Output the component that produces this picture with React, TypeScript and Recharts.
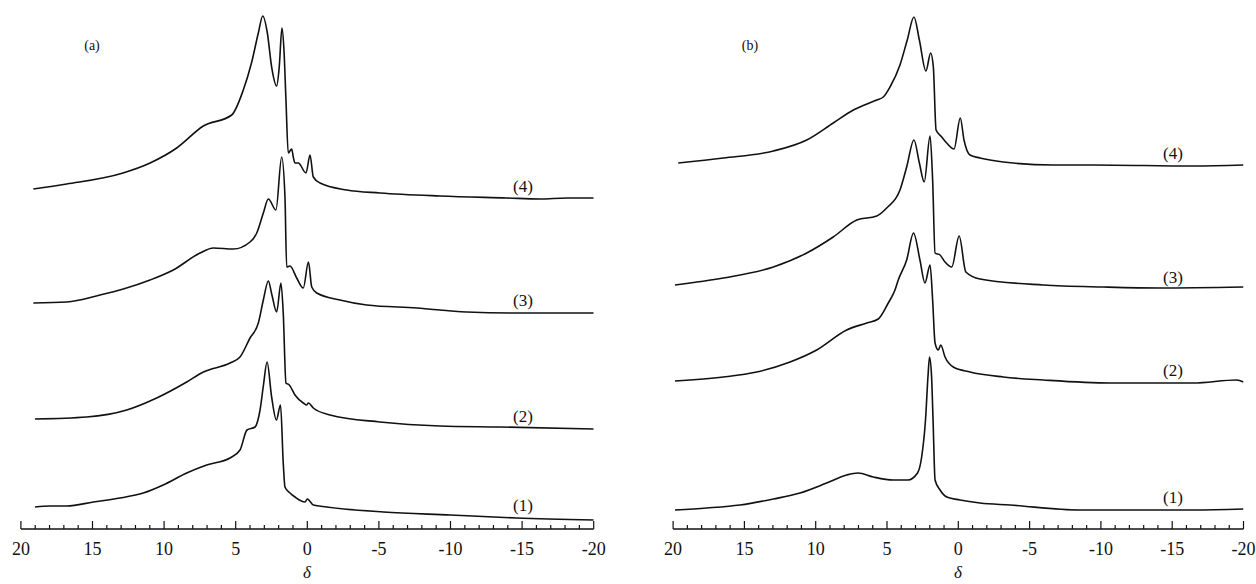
import { LineChart, Line, XAxis, YAxis } from "recharts";

// chemical shift axis (ppm)
const TICKS = [
  20, 19, 18, 17, 16, 15, 14, 13, 12, 11, 10, 9, 8, 7, 6, 5, 4, 3, 2, 1, 0,
  -1, -2, -3, -4, -5, -6, -7, -8, -9, -10, -11, -12, -13, -14, -15, -16, -17, -18, -19, -20,
];

// panel (a)
const A1_SHIFT = [19.02, 17.97, 16.8, 14.94, 13.08, 11.45, 10.06, 8.42, 7.03, 5.4, 4.7, 4.21, 3.65, 3.3, 3.06, 2.81, 2.49, 2.16, 1.87, 1.68, 1.56, 1.21, 0.86, 0.16, 0, -0.42, -1.35, -5.31, -9.97, -14.62, -20];
const A1_INT = [13, 14, 14, 18, 22, 27, 35, 47, 55, 62, 70, 90, 93, 110, 135, 158, 123, 100, 115, 57, 33, 27, 23, 18, 21, 15, 13, 8, 5, 2, 0];

const A2_SHIFT = [19.02, 15.41, 12.61, 10.52, 8.42, 7.26, 5.4, 4.7, 4.0, 3.42, 3.07, 2.72, 2.47, 2.14, 1.84, 1.68, 1.49, 1.26, 0.86, 0.28, 0.04, -0.07, -0.42, -1.59, -5.08, -9.27, -13.46, -20];
const A2_INT = [10, 12, 19, 31, 47, 57, 66, 72, 91, 106, 129, 148, 134, 117, 146, 116, 46, 44, 34, 26, 24, 26, 21, 14, 7, 3, 2, 0];

const A3_SHIFT = [19.13, 16.8, 14.48, 12.85, 10.98, 9.36, 7.49, 6.56, 5.17, 4.0, 3.53, 3.07, 2.72, 2.19, 1.79, 1.56, 1.44, 1.21, 0.74, 0.28, -0.08, -0.31, -0.66, -2.28, -4.15, -7.64, -11.13, -14.62, -20];
const A3_INT = [10, 11, 18, 24, 33, 43, 60, 65, 64, 71, 80, 100, 114, 103, 156, 116, 46, 47, 35, 25, 51, 26, 20, 13, 8, 5, 1, 0, 0];

const A4_SHIFT = [19.13, 16.8, 12.87, 10.98, 9.12, 7.26, 5.28, 4.47, 3.88, 3.42, 3.11, 2.79, 2.49, 2.14, 1.96, 1.77, 1.63, 1.49, 1.33, 1.09, 0.98, 0.86, 0.63, 0.09, -0.19, -0.42, -0.89, -2.75, -5.08, -9.27, -13.92, -16.25, -18.11, -20];
const A4_INT = [9, 14, 25, 35, 50, 72, 83, 108, 136, 165, 182, 165, 131, 112, 131, 170, 148, 98, 45, 49, 41, 35, 35, 25, 43, 21, 15, 8, 5, 2, 0, -1, 0, 0];

const A_OFFSETS = [9, 100, 216, 331];

// panel (b)
const B1_SHIFT = [19.87, 17.64, 15.31, 12.97, 11.1, 9.23, 7.83, 7.03, 5.96, 4.56, 3.53, 2.86, 2.57, 2.3, 2.12, 2.02, 1.88, 1.77, 1.63, 1.28, 0.81, -0.12, -1.52, -3.63, -8.53, -16.48, -20];
const B1_INT = [0, 2, 5, 11, 17, 27, 35, 37, 33, 30, 30, 37, 53, 90, 135, 153, 135, 90, 30, 20, 13, 10, 7, 5, 0, 0, 1];

const B2_SHIFT = [19.87, 16.48, 14.14, 11.8, 9.93, 7.83, 6.42, 5.61, 4.91, 4.44, 4.21, 3.62, 3.14, 2.69, 2.34, 1.98, 1.8, 1.63, 1.4, 1.23, 0.93, 0.35, -0.82, -3.16, -5.96, -10.64, -16.48, -19.52, -20];
const B2_INT = [2, 6, 11, 21, 33, 53, 60, 64, 80, 93, 103, 123, 150, 123, 100, 118, 83, 40, 33, 38, 26, 16, 11, 6, 3, 0, 0, 3, 1];

const B3_SHIFT = [19.87, 16.48, 12.97, 10.63, 8.77, 7.12, 5.72, 5.02, 4.09, 3.62, 3.11, 2.73, 2.39, 1.98, 1.8, 1.63, 1.28, 0.93, 0.46, -0.06, -0.53, -1.52, -5.96, -10.17, -14.14, -20];
const B3_INT = [2, 9, 20, 34, 50, 67, 71, 79, 97, 120, 147, 124, 105, 151, 107, 34, 32, 25, 20, 51, 15, 8, 2, 0, -1, 0];

const B4_SHIFT = [19.64, 16.48, 12.97, 10.63, 8.77, 7.36, 5.72, 5.26, 4.79, 4.09, 3.58, 3.11, 2.73, 2.27, 1.94, 1.75, 1.56, 1.16, 0.81, 0.3, -0.14, -0.4, -0.82, -1.52, -3.16, -6.66, -9.47, -16.48, -20];
const B4_INT = [3, 8, 15, 26, 43, 56, 66, 69, 79, 101, 126, 149, 126, 95, 113, 99, 36, 29, 23, 17, 48, 26, 11, 8, 4, 1, 1, 0, 1];

const B_OFFSETS = [19, 146, 242, 363];

const TRACE_NAMES = ["(1)", "(2)", "(3)", "(4)"];

const AXIS_Y = 529;
const FONT = "'Liberation Serif', 'Times New Roman', serif";
const INK = "#111";

function stack(shift: number[], intensity: number[], offset: number) {
  return shift.map((d, i) => ({ d, v: intensity[i] + offset }));
}

const AxisTick = (props: any) => {
  const { x, payload } = props;
  const v = payload.value;
  const major = v % 5 === 0;
  return (
    <g>
      <line x1={x} x2={x} y1={AXIS_Y} y2={AXIS_Y - (major ? 8 : 4)} stroke={INK} strokeWidth={1.2} />
      {major && (
        <text x={x} y={AXIS_Y + 26} textAnchor="middle" fontFamily={FONT} fontSize={18} fill={INK}>
          {v}
        </text>
      )}
    </g>
  );
};

function Tag({ x, y, size, italic, children }: { x: number; y: number; size: number; italic?: boolean; children: React.ReactNode }) {
  return (
    <div
      style={{
        position: "absolute",
        left: x,
        top: y,
        transform: "translate(-50%, -50%)",
        fontFamily: FONT,
        fontSize: size,
        fontStyle: italic ? "italic" : "normal",
        color: INK,
        whiteSpace: "nowrap",
        lineHeight: 1,
      }}
    >
      {children}
    </div>
  );
}

function Panel({
  left,
  width,
  plotLeft,
  plotRight,
  series,
}: {
  left: number;
  width: number;
  plotLeft: number;
  plotRight: number;
  series: { d: number; v: number }[][];
}) {
  return (
    <div style={{ position: "absolute", left, top: 0 }}>
      <LineChart
        width={width}
        height={584}
        margin={{ top: 0, left: plotLeft - left, right: left + width - plotRight, bottom: 0 }}
      >
        <XAxis
          type="number"
          dataKey="d"
          domain={[-20, 20]}
          reversed
          allowDataOverflow
          ticks={TICKS}
          interval={0}
          height={584 - AXIS_Y}
          axisLine={{ stroke: INK, strokeWidth: 1.4 }}
          tickLine={false}
          tick={<AxisTick />}
        />
        <YAxis hide type="number" domain={[0, AXIS_Y]} allowDataOverflow />
        {series.map((s, i) => (
          <Line
            key={i}
            data={s}
            dataKey="v"
            type="monotone"
            stroke={INK}
            strokeWidth={1.6}
            dot={false}
            activeDot={false}
            isAnimationActive={false}
          />
        ))}
      </LineChart>
    </div>
  );
}

export default function App() {
  const aSeries = [
    stack(A1_SHIFT, A1_INT, A_OFFSETS[0]),
    stack(A2_SHIFT, A2_INT, A_OFFSETS[1]),
    stack(A3_SHIFT, A3_INT, A_OFFSETS[2]),
    stack(A4_SHIFT, A4_INT, A_OFFSETS[3]),
  ];
  const bSeries = [
    stack(B1_SHIFT, B1_INT, B_OFFSETS[0]),
    stack(B2_SHIFT, B2_INT, B_OFFSETS[1]),
    stack(B3_SHIFT, B3_INT, B_OFFSETS[2]),
    stack(B4_SHIFT, B4_INT, B_OFFSETS[3]),
  ];
  const aLabelY = [505, 416, 300, 186];
  const bLabelY = [497, 370, 277, 153];

  return (
    <div style={{ position: "absolute", left: 0, top: 0, width: 1256, height: 584, background: "#fff", overflow: "hidden" }}>
      <Panel left={0} width={620} plotLeft={20.9} plotRight={593.7} series={aSeries} />
      <Panel left={636} width={620} plotLeft={673.1} plotRight={1243.5} series={bSeries} />

      <Tag x={92} y={46} size={14}>(a)</Tag>
      <Tag x={750} y={46} size={14}>(b)</Tag>
      {TRACE_NAMES.map((n, i) => (
        <Tag key={"a" + n} x={523} y={aLabelY[i]} size={17}>{n}</Tag>
      ))}
      {TRACE_NAMES.map((n, i) => (
        <Tag key={"b" + n} x={1173} y={bLabelY[i]} size={17}>{n}</Tag>
      ))}
      <Tag x={307} y={572} size={17} italic>δ</Tag>
      <Tag x={958} y={572} size={17} italic>δ</Tag>
    </div>
  );
}
